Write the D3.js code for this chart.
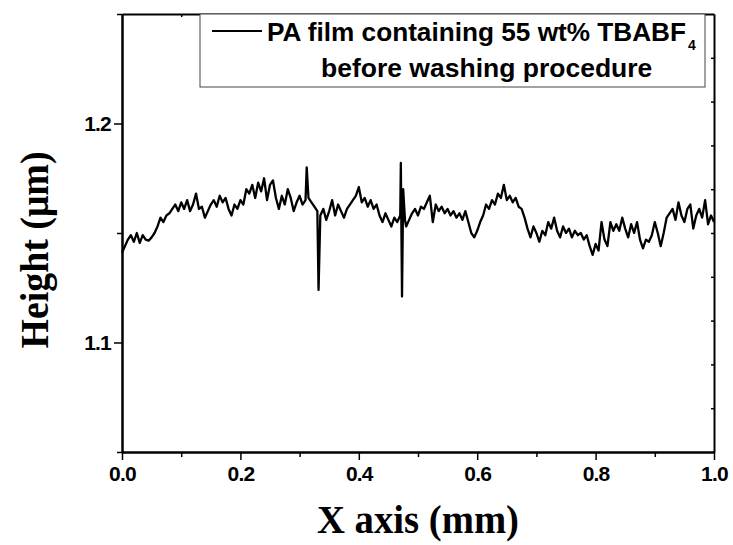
<!DOCTYPE html>
<html>
<head>
<meta charset="utf-8">
<script src="https://cdn.jsdelivr.net/npm/d3@7"></script>
<style>
  body { margin: 0; background: #fff; }
  svg { display: block; }
</style>
</head>
<body>
<svg id="chart" width="733" height="545"></svg>
<script>
// ---- data ----
const xPos = [
  0.000,0.005,0.010,0.015,0.020,0.025,0.030,0.035,0.040,0.045,
  0.050,0.055,0.060,0.065,0.070,0.075,0.080,0.085,0.090,0.095,
  0.100,0.105,0.110,0.115,0.120,0.125,0.130,0.135,0.140,0.145,
  0.150,0.155,0.160,0.165,0.170,0.175,0.180,0.185,0.190,0.195,
  0.200,0.205,0.210,0.215,0.220,0.225,0.230,0.235,0.240,0.245,
  0.250,0.255,0.260,0.265,0.270,0.275,0.280,0.285,0.290,0.295,
  0.300,0.305,0.310,0.312,0.315,0.320,0.325,0.330,0.332,0.335,
  0.340,0.345,0.350,0.355,0.360,0.365,0.370,0.375,0.380,0.385,
  0.390,0.395,0.400,0.405,0.410,0.415,0.420,0.425,0.430,0.435,
  0.440,0.445,0.450,0.455,0.460,0.465,0.470,0.471,0.473,0.475,
  0.478,0.480,0.485,0.490,0.495,0.500,0.505,0.510,0.515,0.520,
  0.525,0.530,0.535,0.540,0.545,0.550,0.555,0.560,0.565,0.570,
  0.575,0.580,0.585,0.590,0.595,0.600,0.605,0.610,0.615,0.620,
  0.625,0.630,0.635,0.640,0.645,0.650,0.655,0.660,0.665,0.670,
  0.675,0.680,0.685,0.690,0.695,0.700,0.705,0.710,0.715,0.720,
  0.725,0.730,0.735,0.740,0.745,0.750,0.755,0.760,0.765,0.770,
  0.775,0.780,0.785,0.790,0.795,0.800,0.805,0.810,0.815,0.820,
  0.825,0.830,0.835,0.840,0.845,0.850,0.855,0.860,0.865,0.870,
  0.875,0.880,0.885,0.890,0.895,0.900,0.905,0.910,0.915,0.920,
  0.925,0.930,0.935,0.940,0.945,0.950,0.955,0.960,0.965,0.970,
  0.975,0.980,0.985,0.990,0.995,1.000
];
const heights = [
  1.141,1.144,1.147,1.149,1.146,1.150,1.1455,1.149,1.147,1.1465,
  1.148,1.150,1.153,1.157,1.155,1.158,1.159,1.161,1.163,1.160,
  1.164,1.161,1.165,1.160,1.163,1.168,1.161,1.162,1.157,1.160,
  1.163,1.165,1.162,1.167,1.164,1.166,1.161,1.158,1.163,1.161,
  1.165,1.163,1.170,1.168,1.172,1.166,1.173,1.169,1.175,1.165,
  1.172,1.174,1.166,1.161,1.167,1.163,1.170,1.166,1.160,1.164,
  1.167,1.163,1.165,1.180,1.166,1.164,1.162,1.160,1.124,1.158,
  1.161,1.156,1.160,1.165,1.158,1.163,1.160,1.157,1.161,1.163,
  1.165,1.167,1.171,1.164,1.166,1.162,1.165,1.161,1.163,1.158,
  1.155,1.159,1.156,1.153,1.157,1.155,1.158,1.182,1.121,1.170,
  1.156,1.153,1.156,1.159,1.161,1.158,1.162,1.161,1.164,1.167,
  1.155,1.163,1.160,1.162,1.159,1.161,1.158,1.160,1.157,1.159,
  1.156,1.160,1.155,1.150,1.148,1.151,1.155,1.158,1.163,1.161,
  1.165,1.163,1.168,1.166,1.172,1.165,1.167,1.164,1.166,1.162,
  1.161,1.157,1.152,1.148,1.153,1.150,1.146,1.151,1.149,1.155,
  1.152,1.157,1.151,1.148,1.153,1.150,1.152,1.148,1.151,1.149,
  1.150,1.147,1.149,1.144,1.140,1.145,1.142,1.155,1.147,1.144,
  1.155,1.151,1.154,1.151,1.157,1.152,1.148,1.154,1.150,1.155,
  1.147,1.143,1.147,1.146,1.149,1.155,1.150,1.144,1.150,1.157,
  1.159,1.161,1.156,1.164,1.158,1.155,1.161,1.163,1.152,1.158,
  1.161,1.157,1.165,1.154,1.158,1.155
];
const xMajor = [0, 0.2, 0.4, 0.6, 0.8, 1.0];
const xMinor = [0.1, 0.3, 0.5, 0.7, 0.9];
const xTop = [0.1, 0.2, 0.3, 0.4, 0.5, 0.6, 0.7, 0.8, 0.9];
const yMajor = [1.1, 1.2];
const yMinor = [1.05, 1.15, 1.25];
const yRight = [1.07, 1.09, 1.11, 1.13, 1.15, 1.17, 1.19, 1.21, 1.23];
const legendLine1 = "PA film containing 55 wt% TBABF";
const legendSub = "4";
const legendLine2 = "before washing procedure";
const xTitle = "X axis (mm)";
const yTitle = "Height (\u03BCm)";

// ---- chart ----
const svg = d3.select("#chart");
const L = 122, R = 714, T = 14, B = 452;
const x = d3.scaleLinear().domain([0, 1]).range([L, R]);
const y = d3.scaleLinear().domain([1.05, 1.25]).range([B, T]);
const sansFont = "'Liberation Sans',Arial,sans-serif";

function styleAxis(g, w) {
  g.selectAll(".domain").attr("stroke", "#000").attr("stroke-width", w);
  g.selectAll(".tick line").attr("stroke", "#000").attr("stroke-width", 1.5);
  g.selectAll(".tick text").attr("fill", "#000")
    .style("font-family", sansFont).style("font-weight", "bold").style("font-size", "21px")
    .style("letter-spacing", "-0.8px");
}

// minor/inner ticks first
svg.append("g").attr("transform", `translate(0,${T})`)
  .call(d3.axisTop(x).tickValues(xTop).tickSizeInner(-3).tickSizeOuter(0).tickFormat(""))
  .call(g => styleAxis(g, 2));
svg.append("g").attr("transform", `translate(${R},0)`)
  .call(d3.axisRight(y).tickValues(yRight).tickSizeInner(-3).tickSizeOuter(0).tickFormat(""))
  .call(g => styleAxis(g, 2));
svg.append("g").attr("transform", `translate(0,${B})`)
  .call(d3.axisBottom(x).tickValues(xMinor).tickSizeInner(5).tickSizeOuter(0).tickFormat(""))
  .call(g => styleAxis(g, 2));
svg.append("g").attr("transform", `translate(${L},0)`)
  .call(d3.axisLeft(y).tickValues(yMinor).tickSizeInner(5).tickSizeOuter(0).tickFormat(""))
  .call(g => styleAxis(g, 2));

// major ticks with labels
svg.append("g").attr("transform", `translate(0,${B})`)
  .call(d3.axisBottom(x).tickValues(xMajor).tickSizeInner(8).tickSizeOuter(0).tickPadding(6).tickFormat(d3.format(".1f")))
  .call(g => styleAxis(g, 2));
svg.append("g").attr("transform", `translate(${L},0)`)
  .call(d3.axisLeft(y).tickValues(yMajor).tickSizeInner(8).tickSizeOuter(0).tickPadding(3).tickFormat(d3.format(".1f")))
  .call(g => styleAxis(g, 2));

// data line
const data = xPos.map((d, i) => [d, heights[i]]);
svg.append("path")
  .datum(data)
  .attr("fill", "none")
  .attr("stroke", "#000")
  .attr("stroke-width", 2.3)
  .attr("stroke-linejoin", "round")
  .attr("d", d3.line().x(d => x(d[0])).y(d => y(d[1])));

// legend
const lg = svg.append("g");
lg.append("rect").attr("x", 200).attr("y", T).attr("width", 505).attr("height", 73)
  .attr("fill", "#fff").attr("stroke", "#444").attr("stroke-width", 1);
lg.append("line").attr("x1", 212).attr("x2", 262).attr("y1", 31).attr("y2", 31)
  .attr("stroke", "#000").attr("stroke-width", 2);
const t1 = lg.append("text").attr("x", 267).attr("y", 41)
  .style("font-family", sansFont).style("font-weight", "bold").style("font-size", "26.2px");
t1.append("tspan").text(legendLine1);
t1.append("tspan").attr("dx", 2).attr("dy", 9)
  .style("font-size", "14px")
  .text(legendSub);
lg.append("text").attr("x", 321).attr("y", 77)
  .style("font-family", sansFont).style("font-weight", "bold").style("font-size", "26.5px")
  .text(legendLine2);

// axis titles
const titleFont = "'Liberation Serif','Times New Roman',serif";
svg.append("text").attr("x", 418).attr("y", 533).attr("text-anchor", "middle")
  .attr("textLength", 202).attr("lengthAdjust", "spacingAndGlyphs")
  .style("font-family", titleFont).style("font-weight", "bold").style("font-size", "39px")
  .text(xTitle);
svg.append("text").attr("transform", "translate(48,250) rotate(-90)").attr("text-anchor", "middle")
  .attr("textLength", 197).attr("lengthAdjust", "spacingAndGlyphs")
  .style("font-family", titleFont).style("font-weight", "bold").style("font-size", "39px")
  .text(yTitle);
</script>
</body>
</html>
